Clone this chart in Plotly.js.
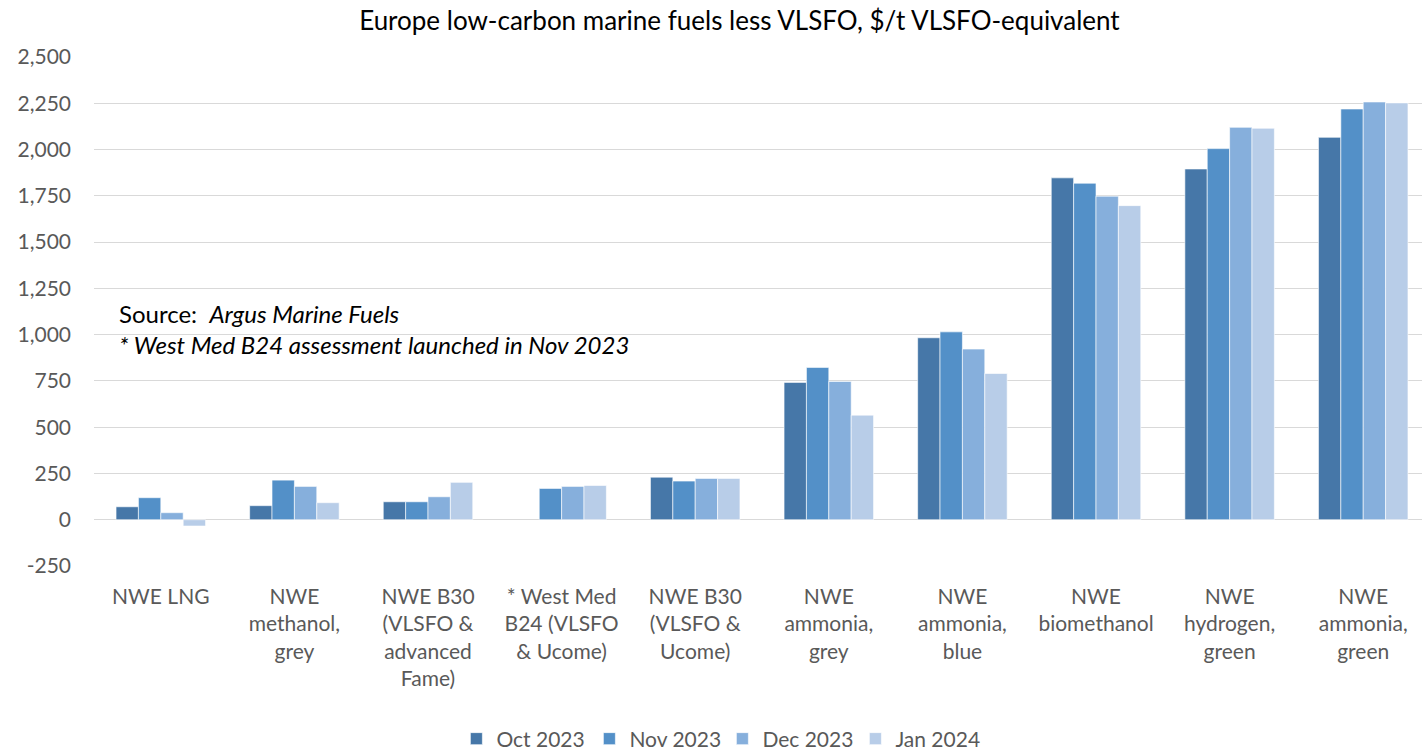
<!DOCTYPE html>
<html><head><meta charset="utf-8">
<script src="https://cdn.plot.ly/plotly-3.0.1.min.js"></script>
<style>body{margin:0;background:#fff}#chart{width:1422px;height:751px}</style>
</head><body><div id="chart"></div>
<script>
const categories = ["NWE LNG","NWE<br>methanol,<br>grey","NWE B30<br>(VLSFO &<br>advanced<br>Fame)","* West Med<br>B24 (VLSFO<br>& Ucome)","NWE B30<br>(VLSFO &<br>Ucome)","NWE<br>ammonia,<br>grey","NWE<br>ammonia,<br>blue","NWE<br>biomethanol","NWE<br>hydrogen,<br>green","NWE<br>ammonia,<br>green"];
const seriesNames = ["Oct 2023","Nov 2023","Dec 2023","Jan 2024"];
const oct2023 = [70, 76, 97, null, 230, 742, 983, 1847, 1895, 2066];
const nov2023 = [119, 214, 97, 169, 209, 823, 1015, 1818, 2005, 2219];
const dec2023 = [38, 180, 124, 180, 223, 747, 922, 1748, 2120, 2257];
const jan2024 = [-34, 92, 202, 185, 223, 565, 790, 1697, 2115, 2252];
const yTicks = [-250,0,250,500,750,1000,1250,1500,1750,2000,2250,2500];
const yTickText = ["-250","0","250","500","750","1,000","1,250","1,500","1,750","2,000","2,250","2,500"];
const colors = ["#4677a8","#5390c8","#86afdc","#b8cde8"];
const allSeries = [oct2023, nov2023, dec2023, jan2024];

const traces = allSeries.map((vals,i)=>({
  type:"bar", name:seriesNames[i], x:categories, y:vals,
  marker:{color:colors[i], line:{color:"rgba(255,255,255,0.6)", width:1}},
  hoverinfo:"x+y"
}));

const layout = {
  width:1422, height:751,
  margin:{l:94, r:0, t:57, b:185},
  paper_bgcolor:"#fff", plot_bgcolor:"#fff",
  font:{family:"Lato, 'Open Sans', sans-serif", size:20, color:"#595959"},
  title:{text:"Europe low-carbon marine fuels less VLSFO, $/t VLSFO-equivalent", x:0.52, xanchor:"center", y:0.972, yanchor:"middle", font:{size:26, color:"#000"}},
  barmode:"group", bargap:0.33, bargroupgap:0,
  xaxis:{type:"category", range:[-0.5, 9.44], tickfont:{size:21, color:"#595959"}, showgrid:false, zeroline:false, showline:false, ticks:"", automargin:false, ticklabelstandoff:16},
  yaxis:{range:[-250,2500], tickvals:yTicks, ticktext:yTickText, showgrid:true, gridcolor:"#d9d9d9", gridwidth:1, zeroline:true, zerolinecolor:"#d9d9d9", zerolinewidth:1, showline:false, ticks:"", ticklabelstandoff:22, tickfont:{size:21, color:"#595959"}, automargin:false},
  showlegend:true,
  legend:{orientation:"h", x:0.508, xanchor:"center", xref:"container", y:0.016, yref:"container", yanchor:"middle", font:{size:21, color:"#595959"}, traceorder:"normal", itemwidth:30, entrywidth:88},
  annotations:[{
    xref:"paper", yref:"paper", x:0.017, y:0.465, xanchor:"left", yanchor:"middle", align:"left", showarrow:false,
    text:"Source:  <i>Argus Marine Fuels</i><br><i>* West Med B24 assessment launched in Nov 2023</i>",
    font:{size:24, color:"#000"}
  }]
};
Plotly.newPlot("chart", traces, layout, {displayModeBar:false, staticPlot:true});
</script></body></html>
